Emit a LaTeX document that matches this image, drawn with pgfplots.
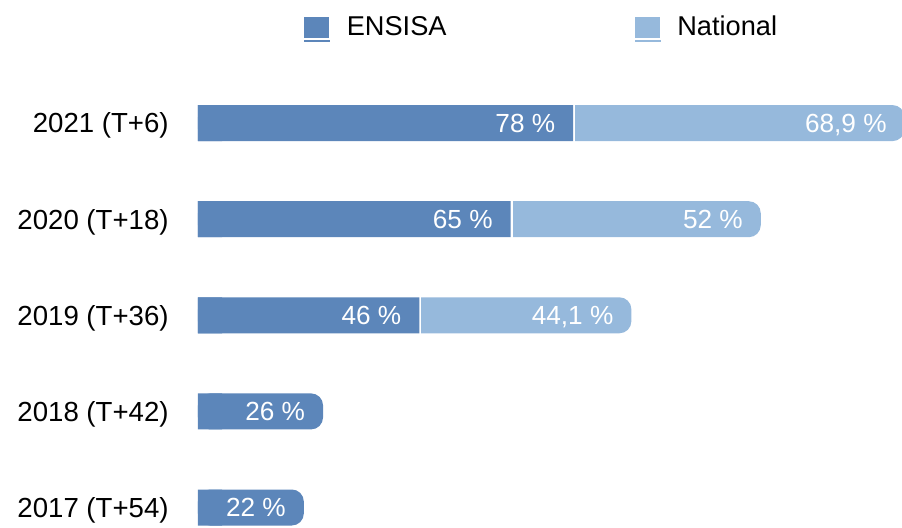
\documentclass[border=0pt]{standalone}
\usepackage{pgfplots}
\usepackage{pgfplotstable}
\usepackage{fontspec}
\setmainfont{Liberation Sans}
\pgfplotsset{compat=1.18}
\definecolor{ensisa}{RGB}{92,134,186}
\definecolor{national}{RGB}{150,185,220}

% rows where the national value follows the ENSISA one
\pgfplotstableread{
y E N lE lN
4 78 68.9 {78 \%} {68,9 \%}
3 65 52 {65 \%} {52 \%}
2 46 44.1 {46 \%} {44,1 \%}
}\tabTop
% rows with only the ENSISA value
\pgfplotstableread{
y E lE
1 26 {26 \%}
0 22 {22 \%}
}\tabLow

\begin{document}
\begin{tikzpicture}
\begin{axis}[
  at={(0,0)}, anchor=south west,
  x=2.405pt, y=48.05pt,
  xmin=0, xmax=147.2, ymin=-0.5, ymax=4.5,
  axis line style={draw=none},
  tick style={draw=none},
  major tick length=0pt,
  xtick=\empty,
  ytick={0,1,2,3,4},
  yticklabels={2017 (T+54),2018 (T+42),2019 (T+36),2020 (T+18),2021 (T+6)},
  yticklabel style={font=\fontsize{13.8}{16}\selectfont, anchor=base east, inner sep=0pt, xshift=-14.5pt, yshift=-4.9pt},
  legend columns=2,
  legend cell align=left,
  legend style={at={(axis description cs:0.1497,1.0989)}, anchor=west, draw=none, fill=none,
    inner sep=0pt, outer sep=0pt, font=\fontsize{13.6}{16}\selectfont,
    /tikz/every odd column/.append style={column sep=6.5pt},
    /tikz/every even column/.append style={column sep=92pt}},
  every node near coord/.append style={anchor=base east, inner sep=0pt, xshift=-8.8pt, yshift=-4.65pt,
    text=white, font=\fontsize{13.1}{16}\selectfont},
  point meta=explicit symbolic,
]
\addlegendimage{legend image code/.code={\fill[ensisa] (0pt,-5pt) rectangle (12pt,5pt); \fill[ensisa] (0pt,-7.15pt) rectangle (12.5pt,-6.35pt);}}
\addlegendentry{ENSISA}
\addlegendimage{legend image code/.code={\fill[national] (0pt,-5pt) rectangle (12pt,5pt); \fill[national] (0pt,-7.15pt) rectangle (12.5pt,-6.35pt);}}
\addlegendentry{National}

% National part, ends at ENSISA + National
\addplot[forget plot, xbar, bar width=18pt, bar shift=0pt, fill=national, draw=none, rounded corners=6pt,
  nodes near coords]
  table[x expr=\thisrow{E}+\thisrow{N}, y=y, meta=lN] {\tabTop};
% white separator after the ENSISA part
\addplot[forget plot, xbar, bar width=18pt, bar shift=0pt, fill=none, draw=white, line width=2pt]
  table[x=E, y=y] {\tabTop};
% ENSISA part
\addplot[forget plot, xbar, bar width=18pt, bar shift=0pt, fill=ensisa, draw=none, nodes near coords]
  table[x=E, y=y, meta=lE] {\tabTop};
\addplot[forget plot, xbar, bar width=18pt, bar shift=0pt, fill=ensisa, draw=none, rounded corners=6pt,
  nodes near coords]
  table[x=E, y=y, meta=lE] {\tabLow};
\end{axis}
% square left ends of the ENSISA bars
\begin{axis}[
  at={(0,0)}, anchor=south west,
  x=2.405pt, y=48.05pt,
  xmin=0, xmax=5, ymin=-0.5, ymax=4.5,
  hide axis,
]
\addplot[xbar, bar width=18pt, bar shift=0pt, fill=ensisa, draw=none] table[x=E, y=y] {\tabTop};
\addplot[xbar, bar width=18pt, bar shift=0pt, fill=ensisa, draw=none] table[x=E, y=y] {\tabLow};
\end{axis}
\pgfresetboundingbox
\useasboundingbox (-99pt,14.275pt) rectangle (352pt,277.775pt);
\end{tikzpicture}
\end{document}
